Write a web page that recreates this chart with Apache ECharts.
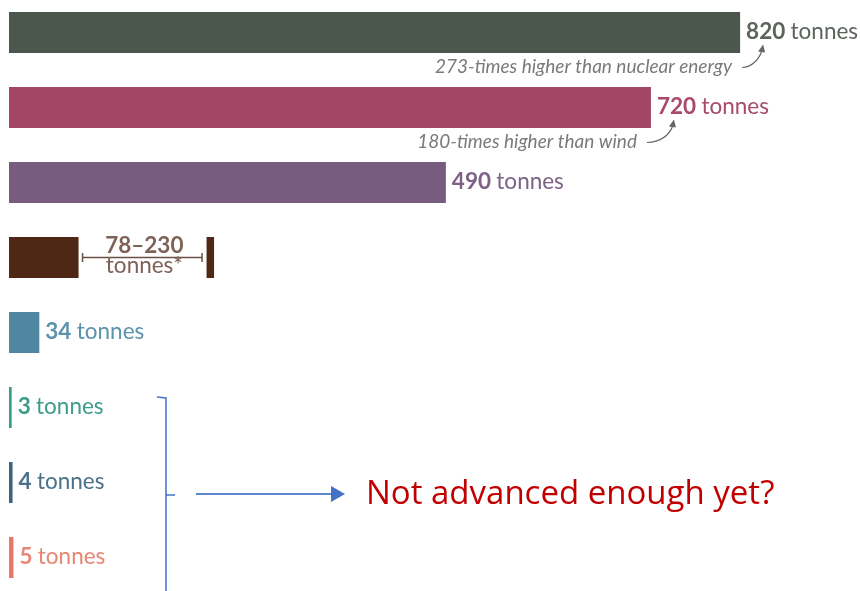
<!DOCTYPE html>
<html>
<head>
<meta charset="utf-8">
<script src="https://cdn.jsdelivr.net/npm/echarts@6/dist/echarts.min.js"></script>
<style>
html, body { margin: 0; padding: 0; background: #fff; }
#chart { width: 860px; height: 591px; }
</style>
</head>
<body>
<div id="chart"></div>
<script>
// greenhouse gas emissions per GWh of electricity (tonnes CO2-eq)
const categories = ['Coal', 'Oil', 'Gas', 'Biomass', 'Hydropower', 'Nuclear', 'Wind', 'Solar']
const values = [820, 720, 490, 78, 34, 3, 4, 5]
const biomassRange = [78, 230]
const barColors = ['#4b564d', '#a34665', '#785c80', '#4e2715', '#4f87a0', '#3a9c89', '#3c6580', '#e8796a']
const textColors = ['#5c645c', '#a84a6a', '#7d6286', '#7e6257', '#5b93ab', '#3d9c8a', '#4a7189', '#e88574']
const notes = ['273-times higher than nuclear energy', '180-times higher than wind']

const FONT = 'Lato, "Open Sans", sans-serif'

const rich = {}
values.forEach((v, i) => {
  rich['v' + i] = { color: textColors[i], fontWeight: 'bold', fontSize: 22.5, fontFamily: FONT, padding: [0, 2, 0, 0] }
  rich['u' + i] = { color: textColors[i], fontSize: 22.5, fontFamily: FONT }
})

const renderRange = (params, api) => {
  const row = api.value(2)
  const p0 = api.coord([api.value(0), row])
  const p1 = api.coord([api.value(1), row])
  const h = 41
  const c = textColors[3]
  const x0 = p0[0] + 4
  const x1 = p1[0] - 12
  const y = p0[1]
  const mid = (x0 + x1) / 2
  return {
    type: 'group',
    children: [
      { type: 'line', shape: { x1: x0, y1: y, x2: x1, y2: y }, style: { stroke: '#6b4f45', lineWidth: 1.5 } },
      { type: 'line', shape: { x1: x0, y1: y - 4.5, x2: x0, y2: y + 4.5 }, style: { stroke: '#6b4f45', lineWidth: 1.5 } },
      { type: 'line', shape: { x1: x1, y1: y - 4.5, x2: x1, y2: y + 4.5 }, style: { stroke: '#6b4f45', lineWidth: 1.5 } },
      { type: 'rect', shape: { x: p1[0] - 7.5, y: y - h / 2, width: 7.5, height: h }, style: { fill: barColors[3] } },
      { type: 'text', style: { text: api.value(0) + '–' + api.value(1), x: mid + 2, y: y - 0.5, align: 'center', verticalAlign: 'bottom', fill: c, font: 'bold 22.5px ' + FONT } },
      { type: 'text', style: { text: 'tonnes*', x: mid + 2, y: y - 3, align: 'center', verticalAlign: 'top', fill: c, font: '22.5px ' + FONT } }
    ]
  }
}

const noteGap = [8, 14]
const renderNote = (params, api) => {
  const i = params.dataIndex
  const p = api.coord([api.value(0), api.value(1)])
  const x = p[0]
  const y = p[1]
  const tipX = x + 23
  const tipY = y + 12
  return {
    type: 'group',
    children: [
      { type: 'text', style: { text: notes[i], x: x - noteGap[i], y: y + 34, align: 'right', verticalAlign: 'middle', fill: '#7a7a7a', font: 'italic 19px ' + FONT } },
      { type: 'bezierCurve', shape: { x1: x + 10 - noteGap[i], y1: y + 35, cpx1: x + 16, cpy1: y + 34, x2: tipX - 1, y2: tipY + 6 }, style: { stroke: '#666', lineWidth: 1.2, fill: null } },
      { type: 'polygon', shape: { points: [[tipX, tipY], [tipX - 5, tipY + 7], [tipX + 2, tipY + 8]] }, style: { fill: '#666' } }
    ]
  }
}

const chart = echarts.init(document.getElementById('chart'))
chart.setOption({
  animation: false,
  grid: { left: 9, right: 4, top: 32.5, bottom: 33.5 },
  xAxis: { type: 'value', min: 0, max: 950, show: false },
  yAxis: { type: 'category', data: categories, inverse: true, boundaryGap: false, show: false },
  series: [
    {
      type: 'bar',
      barWidth: 41,
      clip: false,
      data: values.map((v, i) => ({ value: v, itemStyle: { color: barColors[i] } })),
      label: {
        show: true,
        position: 'right',
        distance: 6,
        offset: [0, -1],
        formatter: p => p.dataIndex === 3 ? '' : '{v' + p.dataIndex + '|' + p.value + '} {u' + p.dataIndex + '|tonnes}',
        rich: rich
      }
    },
    {
      type: 'custom',
      renderItem: renderRange,
      clip: false,
      data: [[biomassRange[0], biomassRange[1], 3]]
    },
    {
      type: 'custom',
      renderItem: renderNote,
      clip: false,
      data: [[values[0], 0], [values[1], 1]]
    }
  ],
  graphic: [
    { type: 'polyline', shape: { points: [[157, 397], [166, 398], [166, 595]] }, style: { stroke: '#4472c4', lineWidth: 1.5, fill: null } },
    { type: 'line', shape: { x1: 166, y1: 495, x2: 175, y2: 495 }, style: { stroke: '#4472c4', lineWidth: 1.5 } },
    { type: 'line', shape: { x1: 196, y1: 494, x2: 333, y2: 494 }, style: { stroke: '#5b86cf', lineWidth: 2 } },
    { type: 'polygon', shape: { points: [[331, 486], [345, 494], [331, 502]] }, style: { fill: '#4472c4' } },
    { type: 'text', left: 366, top: 478, style: { text: 'Not advanced enough yet?', fill: '#c00000', font: '33px "Open Sans", sans-serif' } }
  ]
})
</script>
</body>
</html>
